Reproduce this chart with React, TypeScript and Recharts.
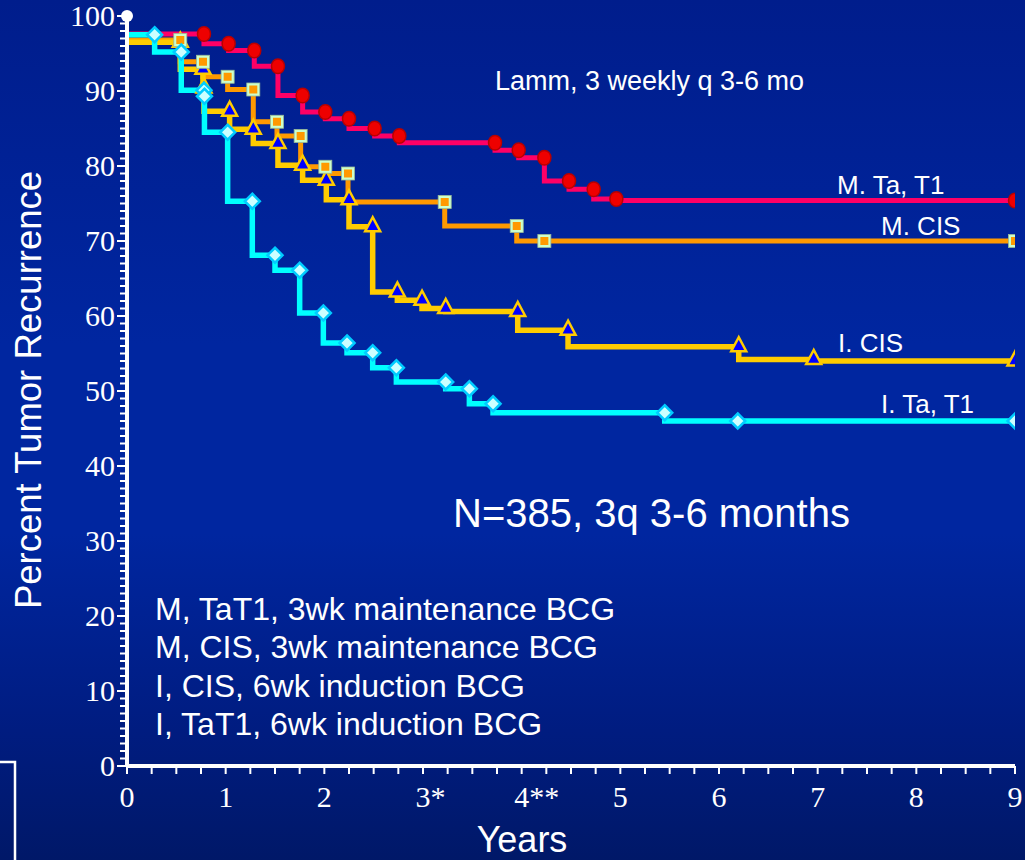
import React from 'react';
import { LineChart, Line, XAxis, YAxis, ReferenceDot } from 'recharts';

// Kaplan-Meier style recurrence curves (stepBefore: each point ends a level)
const mtYears = [0, 0.78, 1.03, 1.29, 1.53, 1.78, 2.01, 2.25, 2.51, 2.76, 3.73, 3.97, 4.23, 4.48, 4.73, 4.96, 9.0];
const mtPct = [97.6, 97.6, 96.3, 95.4, 93.3, 89.4, 87.2, 86.3, 85.0, 84.0, 83.1, 82.1, 81.1, 78.0, 76.9, 75.6, 75.4];

const mcYears = [0, 0.54, 0.77, 1.02, 1.28, 1.52, 1.76, 2.01, 2.24, 3.22, 3.95, 4.23, 9.0];
const mcPct = [96.8, 96.8, 93.9, 91.9, 90.2, 85.9, 84.0, 79.9, 79.0, 75.2, 72.0, 70.0, 70.0];

const icYears = [0, 0.54, 0.77, 0.78, 1.04, 1.28, 1.53, 1.78, 2.02, 2.25, 2.49, 2.74, 2.99, 3.23, 3.96, 4.47, 6.2, 6.96, 9.0];
const icPct = [96.5, 96.5, 92.9, 90.4, 87.3, 84.9, 83.0, 80.1, 78.1, 75.5, 71.9, 63.2, 62.1, 61.0, 60.6, 58.1, 55.9, 54.2, 54.0];

const itYears = [0, 0.28, 0.55, 0.78, 0.785, 1.02, 1.27, 1.5, 1.75, 1.99, 2.23, 2.49, 2.73, 3.23, 3.47, 3.71, 5.45, 6.19, 9.0];
const itPct = [97.5, 97.5, 95.2, 90.1, 89.3, 84.5, 75.3, 68.1, 66.1, 60.4, 56.4, 55.1, 53.1, 51.2, 50.3, 48.3, 47.1, 46.0, 46.0];

const yearTicks = [0, 1, 2, 3, 4, 5, 6, 7, 8, 9];
const yearLabels = ['0', '1', '2', '3*', '4**', '5', '6', '7', '8', '9'];
const pctMajorTicks = [0, 10, 20, 30, 40, 50, 60, 70, 80, 90, 100];

const seriesNames = ['M. Ta, T1', 'M. CIS', 'I. CIS', 'I. Ta, T1'];
const legendLines = [
  'M, TaT1, 3wk maintenance BCG',
  'M, CIS, 3wk maintenance BCG',
  'I, CIS, 6wk induction BCG',
  'I, TaT1, 6wk induction BCG',
];
const subtitle = 'Lamm, 3 weekly q 3-6 mo';
const cohortNote = 'N=385, 3q 3-6 months';

const toRows = (xs: number[], ys: number[]) => xs.map((t, i) => ({ t, v: ys[i] }));
const mtData = toRows(mtYears, mtPct);
const mcData = toRows(mcYears, mcPct);
const icData = toRows(icYears, icPct);
const itData = toRows(itYears, itPct);

// quarter-year minor ticks and one tick per percent
const xMinorTicks = yearTicks.flatMap((y) => (y < 9 ? [y, y + 0.25, y + 0.5, y + 0.75] : [y]));
const yMinorTicks = pctMajorTicks.flatMap((p) => (p < 100 ? Array.from({ length: 10 }, (_, k) => p + k) : [p]));

const SANS = '"Liberation Sans", Arial, sans-serif';
const SERIF = '"Liberation Serif", "Times New Roman", serif';

const XTick = (props: any) => {
  const { x, y, payload } = props;
  const v = payload.value;
  const idx = yearTicks.indexOf(v);
  if (idx < 0) return <g />;
  const label = yearLabels[idx];
  return (
    <text x={x - 7.5} y={y} dy={31} fill="#fff" fontFamily={SERIF} fontSize={30} textAnchor="start">
      {label}
    </text>
  );
};

const YTick = (props: any) => {
  const { x, y, payload } = props;
  const v = payload.value;
  if (pctMajorTicks.indexOf(v) < 0) return <g />;
  return (
    <g>
      <line x1={x - 1} x2={x + 9} y1={y} y2={y} stroke="#fff" strokeWidth={2} />
      <text x={x - 3} y={y} dy={10} fill="#fff" fontFamily={SERIF} fontSize={30} textAnchor="end">
        {v}
      </text>
    </g>
  );
};

const RoundMark = (p: any) => {
  if (p.index === 0) return <g key={`r${p.index}`} />;
  return <ellipse key={`r${p.index}`} cx={p.cx} cy={p.cy} rx={6.5} ry={7.3} fill="#ee0000" stroke="#b80000" strokeWidth={1.5} />;
};

const SquareMark = (p: any) => {
  if (p.index === 0) return <g key={`s${p.index}`} />;
  return (
    <g key={`s${p.index}`}>
      <rect x={p.cx - 6.5} y={p.cy - 6.5} width={13} height={13} fill="#ccffcc" stroke="#99bb99" strokeWidth={0.8} />
      <rect x={p.cx - 4} y={p.cy - 4} width={8} height={8} fill="#ff9900" />
    </g>
  );
};

const TriangleMark = (p: any) => {
  if (p.index === 0) return <g key={`t${p.index}`} />;
  const { cx, cy } = p;
  return (
    <polygon
      key={`t${p.index}`}
      points={`${cx},${cy - 9.5} ${cx - 7.5},${cy + 4.5} ${cx + 7.5},${cy + 4.5}`}
      fill="#0000ff"
      stroke="#ffcc00"
      strokeWidth={2.5}
      strokeLinejoin="miter"
    />
  );
};

const DiamondMark = (p: any) => {
  if (p.index === 0) return <g key={`d${p.index}`} />;
  const { cx, cy } = p;
  return (
    <polygon
      key={`d${p.index}`}
      points={`${cx},${cy - 7.5} ${cx + 7.5},${cy} ${cx},${cy + 7.5} ${cx - 7.5},${cy}`}
      fill="#ccffff"
      stroke="#00ccff"
      strokeWidth={2.5}
    />
  );
};

export default function App() {
  return (
    <div
      style={{
        position: 'absolute',
        left: 0,
        top: 0,
        width: 1025,
        height: 860,
        overflow: 'hidden',
        background: 'linear-gradient(to bottom, #001d8c 0%, #0026a0 40%, #0026a0 62%, #001c80 85%, #001868 100%)',
      }}
    >
      <LineChart width={1025} height={860} margin={{ top: 16, right: 10, bottom: 64, left: 67 }}>
        <XAxis
          type="number"
          dataKey="t"
          domain={[0, 9]}
          ticks={xMinorTicks}
          interval={0}
          height={30}
          tickSize={8}
          tickLine={{ stroke: '#fff', strokeWidth: 2 }}
          axisLine={{ stroke: '#fff', strokeWidth: 4 }}
          tick={<XTick />}
          allowDataOverflow
        />
        <YAxis
          type="number"
          dataKey="v"
          domain={[0, 100]}
          ticks={yMinorTicks}
          interval={0}
          width={60}
          tickSize={7}
          tickLine={{ stroke: '#fff', strokeWidth: 2 }}
          axisLine={{ stroke: '#fff', strokeWidth: 4 }}
          tick={<YTick />}
          allowDataOverflow
        />
        <ReferenceDot x={0} y={100} r={6} fill="#fff" stroke="none" ifOverflow="visible" />

        {/* curves */}
        <Line data={mtData} dataKey="v" type="stepBefore" stroke="#ff0066" strokeWidth={5} dot={false} activeDot={false} isAnimationActive={false} name={seriesNames[0]} />
        <Line data={mcData} dataKey="v" type="stepBefore" stroke="#ff9900" strokeWidth={5} dot={false} activeDot={false} isAnimationActive={false} name={seriesNames[1]} />
        <Line data={icData} dataKey="v" type="stepBefore" stroke="#ffcc00" strokeWidth={5.5} dot={false} activeDot={false} isAnimationActive={false} name={seriesNames[2]} />
        <Line data={itData} dataKey="v" type="stepBefore" stroke="#00ffff" strokeWidth={5.5} dot={false} activeDot={false} isAnimationActive={false} name={seriesNames[3]} />

        {/* event markers */}
        <Line data={icData} dataKey="v" stroke="none" dot={TriangleMark} activeDot={false} isAnimationActive={false} legendType="none" />
        <Line data={mcData} dataKey="v" stroke="none" dot={SquareMark} activeDot={false} isAnimationActive={false} legendType="none" />
        <Line data={itData} dataKey="v" stroke="none" dot={DiamondMark} activeDot={false} isAnimationActive={false} legendType="none" />
        <Line data={mtData} dataKey="v" stroke="none" dot={RoundMark} activeDot={false} isAnimationActive={false} legendType="none" />
      </LineChart>

      <svg
        width={1025}
        height={860}
        style={{ position: 'absolute', left: 0, top: 0, pointerEvents: 'none' }}
      >
        <g fill="#fff" fontFamily={SANS}>
          <text x={495} y={90} fontSize={27}>{subtitle}</text>
          <text x={453} y={527} fontSize={40}>{cohortNote}</text>
          {legendLines.map((s, i) => (
            <text key={s} x={155} y={620 + i * 38.4} fontSize={32}>{s}</text>
          ))}
          <text x={837} y={194} fontSize={26}>{seriesNames[0]}</text>
          <text x={881} y={235} fontSize={26}>{seriesNames[1]}</text>
          <text x={838} y={352} fontSize={26}>{seriesNames[2]}</text>
          <text x={881} y={413} fontSize={26}>{seriesNames[3]}</text>
          <text x={522} y={852} fontSize={36} textAnchor="middle">Years</text>
          <text x={41} y={390} fontSize={36.5} textAnchor="middle" transform="rotate(-90 41 390)">
            Percent Tumor Recurrence
          </text>
        </g>
        <polyline points="-2,762 15,762 15,862" fill="none" stroke="#fff" strokeWidth={2.5} />
      </svg>
    </div>
  );
}
